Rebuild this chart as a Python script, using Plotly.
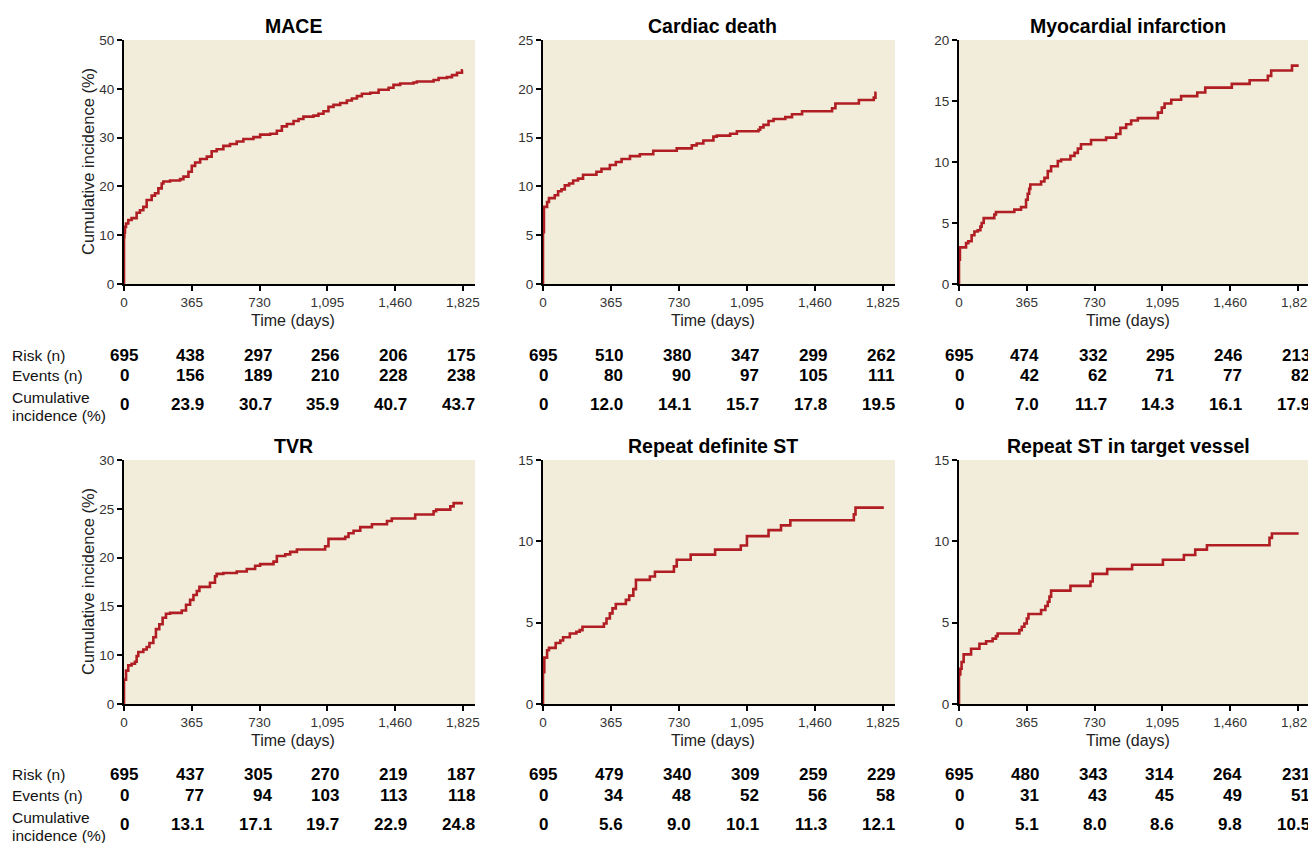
import plotly.graph_objects as go

# ---------------- data ----------------
TIME_TICKS = [0, 365, 730, 1095, 1460, 1825]
TIME_LABELS = ["0", "365", "730", "1,095", "1,460", "1,825"]

titles = ["MACE", "Cardiac death", "Myocardial infarction",
          "TVR", "Repeat definite ST", "Repeat ST in target vessel"]

mace = [(0, 0), (0, 9.6), (2, 10.5), (5, 11.7), (11, 12.4), (23, 13.1), (41, 13.5), (68, 14.6), (86, 15.1),
        (104, 15.8), (122, 17.2), (149, 18.1), (167, 18.6), (185, 19.6), (203, 20.6), (212, 21.0), (248, 21.2),
        (302, 21.5), (320, 22.0), (347, 23.0), (365, 24.2), (383, 24.9), (410, 25.6), (446, 26.1), (472, 27.2),
        (499, 27.6), (535, 28.3), (571, 28.7), (607, 29.2), (643, 29.7), (697, 30.1), (733, 30.6), (787, 30.8),
        (823, 31.4), (850, 32.3), (877, 32.8), (913, 33.4), (940, 33.8), (966, 34.3), (1020, 34.5), (1047, 34.9),
        (1074, 35.4), (1101, 36.3), (1128, 36.7), (1164, 37.1), (1200, 37.6), (1227, 38.0), (1254, 38.5),
        (1281, 39.0), (1326, 39.2), (1371, 39.8), (1425, 40.2), (1451, 40.8), (1487, 41.1), (1559, 41.3),
        (1577, 41.5), (1667, 41.8), (1694, 42.2), (1739, 42.4), (1766, 42.8), (1793, 43.3), (1820, 43.8),
        (1825, 43.8)]

cardiac_death = [(0, 0), (0, 5.3), (5, 7.9), (22, 8.4), (32, 8.8), (63, 9.1), (81, 9.5), (99, 9.7), (117, 10.1),
                 (140, 10.3), (162, 10.6), (188, 10.8), (215, 11.2), (287, 11.5), (314, 11.8), (359, 12.2),
                 (391, 12.5), (422, 12.8), (467, 13.1), (520, 13.3), (592, 13.65), (718, 13.9), (799, 14.2),
                 (825, 14.4), (861, 14.7), (915, 15.1), (933, 15.2), (1005, 15.4), (1041, 15.65), (1157, 15.8),
                 (1166, 16.05), (1184, 16.3), (1211, 16.7), (1238, 16.9), (1301, 17.1), (1337, 17.4), (1391, 17.7),
                 (1552, 18.0), (1570, 18.5), (1696, 18.85), (1776, 19.1), (1785, 19.6), (1791, 19.6)]

myocardial_infarction = [(0, 0), (0, 2.0), (5, 3.0), (38, 3.35), (50, 3.5), (68, 4.0), (83, 4.3), (101, 4.4),
                         (115, 4.7), (122, 5.0), (133, 5.4), (190, 5.7), (199, 5.9), (298, 6.1), (334, 6.3),
                         (361, 6.9), (370, 7.4), (378, 7.8), (384, 8.15), (442, 8.4), (460, 8.7), (478, 9.25),
                         (496, 9.65), (532, 10.07), (550, 10.2), (600, 10.5), (622, 10.75), (640, 11.1), (657, 11.45),
                         (711, 11.8), (792, 12.0), (846, 12.3), (869, 12.8), (900, 13.1), (927, 13.4), (963, 13.6),
                         (1071, 14.05), (1092, 14.46), (1107, 14.8), (1143, 15.1), (1196, 15.4), (1283, 15.7),
                         (1326, 16.1), (1469, 16.4), (1565, 16.7), (1663, 17.06), (1681, 17.5), (1793, 17.9),
                         (1829, 17.9)]

tvr = [(0, 0), (0, 3.0), (11, 4.1), (23, 4.75), (41, 4.95), (59, 5.2), (68, 5.9), (77, 6.4), (104, 6.7), (122, 7.0),
       (137, 7.5), (158, 8.2), (172, 9.2), (190, 9.8), (208, 10.6), (226, 11.1), (248, 11.2), (311, 11.5),
       (334, 12.2), (356, 12.8), (374, 13.4), (392, 13.9), (406, 14.4), (463, 14.9), (490, 15.7), (499, 16.0),
       (535, 16.1), (607, 16.3), (661, 16.6), (706, 17.0), (733, 17.2), (805, 17.5), (823, 18.2), (868, 18.4),
       (895, 18.7), (931, 19.0), (1083, 19.4), (1101, 20.3), (1191, 20.55), (1209, 21.0), (1236, 21.3),
       (1272, 21.75), (1335, 22.1), (1416, 22.5), (1442, 22.8), (1568, 23.3), (1667, 23.7), (1681, 23.9),
       (1757, 24.3), (1775, 24.7), (1825, 24.7)]

repeat_definite_st = [(0, 0), (0, 1.96), (7, 2.85), (22, 3.3), (32, 3.45), (68, 3.75), (93, 3.9), (108, 4.1),
                      (144, 4.33), (179, 4.44), (197, 4.54), (212, 4.75), (327, 4.95), (341, 5.26), (359, 5.57),
                      (373, 5.88), (391, 6.15), (445, 6.4), (463, 6.66), (485, 7.06), (499, 7.63), (574, 7.84),
                      (601, 8.13), (703, 8.46), (718, 8.87), (793, 9.18), (924, 9.49), (1062, 9.74), (1095, 10.32),
                      (1211, 10.69), (1278, 10.98), (1328, 11.3), (1669, 11.66), (1678, 12.07), (1830, 12.07)]

repeat_st_target_vessel = [(0, 0), (0, 1.82), (7, 2.17), (14, 2.58), (25, 3.05), (65, 3.4), (110, 3.7),
                           (146, 3.86), (181, 4.02), (199, 4.17), (208, 4.33), (325, 4.54), (338, 4.75),
                           (352, 4.95), (365, 5.26), (374, 5.53), (442, 5.78), (465, 6.02), (478, 6.29),
                           (487, 6.6), (496, 6.97), (600, 7.26), (708, 7.53), (720, 8.0), (798, 8.29), (932, 8.56),
                           (1098, 8.87), (1211, 9.16), (1272, 9.49), (1335, 9.76), (1672, 10.21), (1685, 10.48),
                           (1829, 10.48)]

curves = [mace, cardiac_death, myocardial_infarction, tvr, repeat_definite_st, repeat_st_target_vessel]

y_max = [50, 25, 20, 30, 15, 15]
y_tickvals = [[0, 10, 20, 30, 40, 50], [0, 5, 10, 15, 20, 25], [0, 5, 10, 15, 20],
              [0, 6, 12, 18, 24, 30], [0, 5, 10, 15], [0, 5, 10, 15]]
y_ticktext = [["0", "10", "20", "30", "40", "50"], ["0", "5", "10", "15", "20", "25"], ["0", "5", "10", "15", "20"],
              ["0", "10", "15", "20", "25", "30"], ["0", "5", "10", "15"], ["0", "5", "10", "15"]]

risk_n = [[695, 438, 297, 256, 206, 175], [695, 510, 380, 347, 299, 262], [695, 474, 332, 295, 246, 213],
          [695, 437, 305, 270, 219, 187], [695, 479, 340, 309, 259, 229], [695, 480, 343, 314, 264, 231]]
events_n = [[0, 156, 189, 210, 228, 238], [0, 80, 90, 97, 105, 111], [0, 42, 62, 71, 77, 82],
            [0, 77, 94, 103, 113, 118], [0, 34, 48, 52, 56, 58], [0, 31, 43, 45, 49, 51]]
cum_inc = [["0", "23.9", "30.7", "35.9", "40.7", "43.7"], ["0", "12.0", "14.1", "15.7", "17.8", "19.5"],
           ["0", "7.0", "11.7", "14.3", "16.1", "17.9"], ["0", "13.1", "17.1", "19.7", "22.9", "24.8"],
           ["0", "5.6", "9.0", "10.1", "11.3", "12.1"], ["0", "5.1", "8.0", "8.6", "9.8", "10.5"]]

# ---------------- styling / layout ----------------
OFF = 8                      # the page body has an 8px margin; compensate
W, H = 1316 - OFF, 843 - OFF
BG = "#F2EDDB"
LINE = "#B01E23"
FONT = "Liberation Sans, Arial, Helvetica, sans-serif"

col_px = [(124, 475), (543, 895), (959, 1310)]
row_px = [(40, 284), (460, 704)]
row_text_px = [dict(title=26, time=320, risk=355, events=375, cum=404.5, lab1=397, lab2=415),
               dict(title=445.5, time=740.5, risk=774.5, events=795.5, cum=824.5, lab1=817.5, lab2=835.5)]


def px(p):
    return (p - OFF) / W


def py(p):
    return 1 - (p - OFF) / H


fig = go.Figure()
annotations = []

for i in range(6):
    r, c = divmod(i, 3)
    ax = "" if i == 0 else str(i + 1)
    xs = [p[0] for p in curves[i]]
    ys = [p[1] for p in curves[i]]
    fig.add_trace(go.Scatter(x=xs, y=ys, mode="lines", line=dict(color=LINE, width=2.6, shape="hv"),
                             xaxis="x" + ax, yaxis="y" + ax, showlegend=False, hoverinfo="skip"))
    x0, x1 = col_px[c]
    yt, yb = row_px[r]
    fig.layout["xaxis" + ax] = dict(
        domain=[px(x0), min(px(x1), 1)], anchor="y" + ax, range=[0, 1890], automargin=False,
        tickvals=TIME_TICKS, ticktext=TIME_LABELS, ticks="outside", ticklen=5, tickwidth=1.5,
        tickcolor="black", showline=True, linecolor="black", linewidth=2, showgrid=False, zeroline=False,
        tickfont=dict(family=FONT, size=13.5, color="#333"), fixedrange=True)
    fig.layout["yaxis" + ax] = dict(
        domain=[py(yb), py(yt)], anchor="x" + ax, range=[0, y_max[i]], automargin=False,
        tickvals=y_tickvals[i], ticktext=y_ticktext[i], ticks="outside", ticklen=5, tickwidth=1.5,
        tickcolor="black", showline=True, linecolor="black", linewidth=2, showgrid=False, zeroline=False,
        tickfont=dict(family=FONT, size=13.5, color="#333"), fixedrange=True)

    t = row_text_px[r]
    xref = "x" + ax
    annotations.append(dict(x=912.5, y=py(t["title"]), xref=xref, yref="paper", text="<b>%s</b>" % titles[i],
                            showarrow=False, xanchor="center", yanchor="middle",
                            font=dict(family=FONT, size=19.5, color="black")))
    annotations.append(dict(x=912.5, y=py(t["time"]), xref=xref, yref="paper", text="Time (days)",
                            showarrow=False, xanchor="center", yanchor="middle",
                            font=dict(family=FONT, size=16, color="#222")))
    for k, tk in enumerate(TIME_TICKS):
        if k == 0:
            xa, xs_ = "center", 0
        else:
            xa, xs_ = "right", 14
        for key, val in (("risk", str(risk_n[i][k])), ("events", str(events_n[i][k])), ("cum", cum_inc[i][k])):
            annotations.append(dict(x=tk, y=py(t[key]), xref=xref, yref="paper", text="<b>%s</b>" % val,
                                    showarrow=False, xanchor=xa, xshift=xs_, yanchor="middle",
                                    font=dict(family=FONT, size=17, color="black")))

    if c == 0:
        annotations.append(dict(x=px(88), y=py((yt + yb) / 2), xref="paper", yref="paper",
                                text="Cumulative incidence (%)", textangle=-90, showarrow=False,
                                xanchor="center", yanchor="middle",
                                font=dict(family=FONT, size=16.5, color="#222")))
        for key, lab in (("risk", "Risk (n)"), ("events", "Events (n)"), ("lab1", "Cumulative"),
                         ("lab2", "incidence (%)")):
            annotations.append(dict(x=px(10), y=py(t[key]), xref="paper", yref="paper", text=lab,
                                    showarrow=False, xanchor="left", yanchor="middle",
                                    font=dict(family=FONT, size=15.5, color="#111")))

fig.update_layout(width=W, height=H, margin=dict(l=0, r=0, t=0, b=0, pad=0), paper_bgcolor="white",
                  plot_bgcolor=BG, annotations=annotations, showlegend=False)

fig.write_html("out.html")
